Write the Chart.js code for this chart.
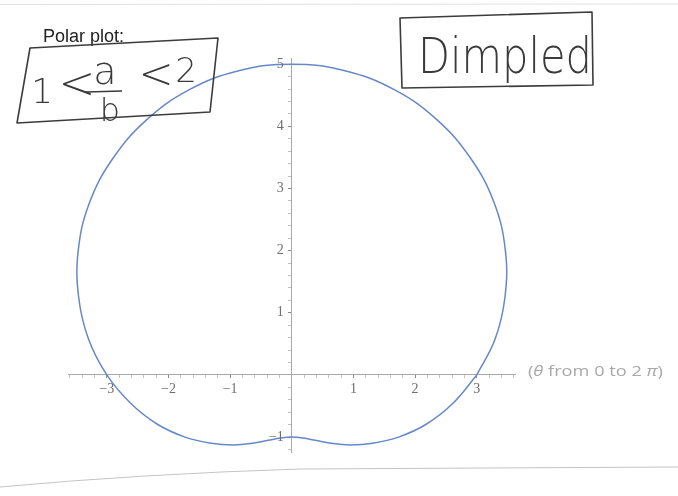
<!DOCTYPE html>
<html>
<head>
<meta charset="utf-8">
<script src="https://cdn.jsdelivr.net/npm/chart.js@4.4.1/dist/chart.umd.min.js"></script>
<style>
  html, body { margin: 0; padding: 0; background: #ffffff; }
  #wrap { position: relative; width: 678px; height: 496px; overflow: hidden; }
  #plot { position: absolute; left: 0; top: 0; }
  #notes { position: absolute; left: 0; top: 0; pointer-events: none; }
</style>
</head>
<body>
<div id="wrap">
  <canvas id="plot" width="678" height="496"></canvas>
  <svg id="notes" width="678" height="496" xmlns="http://www.w3.org/2000/svg">
    <!-- page edges -->
    <line x1="0" y1="4.5" x2="678" y2="4" stroke="#e2e2e2" stroke-width="1"/>
    <path d="M0,487 Q140,474 300,469 L678,467" fill="none" stroke="#c4c4c4" stroke-width="1"/>

    <text x="43" y="42" font-family="Liberation Sans, Arial, sans-serif" font-size="18" fill="#222">Polar plot:</text>

    <!-- handwritten note: 1 < a/b < 2 -->
    <path d="M30,48 L218,38 L210,112 L17,123 Z" fill="none" stroke="#3c3c3c" stroke-width="1.6" stroke-linejoin="round"/>
    <g font-family="DejaVu Sans, sans-serif" font-weight="200" fill="#3a3a3a" text-anchor="middle">
      <text x="42" y="103" font-size="34">1</text>
      <text x="77" y="98" font-size="44">&lt;</text>
      <text x="105" y="84" font-size="38">a</text>
      <text x="110" y="121" font-size="32">b</text>
      <text x="156" y="88" font-size="42">&lt;</text>
      <text x="186" y="82" font-size="34">2</text>
    </g>
    <line x1="86" y1="92" x2="122" y2="91" stroke="#3a3a3a" stroke-width="1.5"/>

    <!-- handwritten note: Dimpled -->
    <path d="M400,18 L592,12 L593,85 L402,88 Z" fill="none" stroke="#3c3c3c" stroke-width="1.6" stroke-linejoin="round"/>
    <text x="418" y="73" font-family="DejaVu Sans, sans-serif" font-weight="200" font-size="49" fill="#3a3a3a" textLength="174" lengthAdjust="spacingAndGlyphs">Dimpled</text>

    <!-- parameter range note -->
    <text x="528" y="376" font-family="Open Sans, sans-serif" font-size="14.5" fill="#a8a8a8" textLength="135" lengthAdjust="spacingAndGlyphs">(<tspan font-style="italic">θ</tspan> from 0 to 2 <tspan font-style="italic">π</tspan>)</text>
  </svg>
</div>
<script>
// Limaçon sampled every 10 degrees: angle (deg) and radius
const thetaDeg = [0, 10, 20, 30, 40, 50, 60, 70, 80, 90,
                  100, 110, 120, 130, 140, 150, 160, 170, 180,
                  190, 200, 210, 220, 230, 240, 250, 260, 270,
                  280, 290, 300, 310, 320, 330, 340, 350, 360];
const radius = [3.00, 3.35, 3.68, 4.00, 4.29, 4.53, 4.73, 4.88, 4.97, 5.00,
                4.97, 4.88, 4.73, 4.53, 4.29, 4.00, 3.68, 3.35, 3.00,
                2.65, 2.32, 2.00, 1.71, 1.47, 1.27, 1.12, 1.03, 1.00,
                1.03, 1.12, 1.27, 1.47, 1.71, 2.00, 2.32, 2.65, 3.00];

// Axis tick labels
const xTickValues = [-3, -2, -1, 1, 2, 3];
const xTickLabels = ['\u22123', '\u22122', '\u22121', '1', '2', '3'];
const yTickValues = [-1, 1, 2, 3, 4, 5];
const yTickLabels = ['\u22121', '1', '2', '3', '4', '5'];

// polar -> cartesian points for the scatter line
const curve = thetaDeg.map((t, i) => {
  const a = t * Math.PI / 180;
  return { x: radius[i] * Math.cos(a), y: radius[i] * Math.sin(a) };
});

function isWhole(v) { return Math.abs(v - Math.round(v)) < 1e-6; }
function labelFor(values, labels) {
  return (v) => {
    if (!isWhole(v)) return '';
    const idx = values.indexOf(Math.round(v));
    return idx >= 0 ? labels[idx] : '';
  };
}

const axisFont = { family: 'Liberation Serif, Times New Roman, serif', size: 14 };
const labelColor = '#6e6e6e';

// Labels of the centred y axis, set a little to the left of the axis line
const yAxisLabels = {
  id: 'yAxisLabels',
  afterDraw(chart) {
    const { ctx, scales: { x, y } } = chart;
    const axisX = x.getPixelForValue(0);
    ctx.save();
    ctx.font = `${axisFont.size}px ${axisFont.family}`;
    ctx.fillStyle = labelColor;
    ctx.textAlign = 'right';
    ctx.textBaseline = 'middle';
    yTickValues.forEach((v, i) => {
      ctx.fillText(yTickLabels[i], axisX - 8, y.getPixelForValue(v));
    });
    ctx.restore();
  }
};

new Chart(document.getElementById('plot'), {
  type: 'scatter',
  data: {
    datasets: [{
      data: curve,
      showLine: true,
      tension: 0.4,
      borderColor: '#6688c8',
      borderWidth: 1.5,
      pointRadius: 0,
      fill: false
    }]
  },
  options: {
    responsive: false,
    animation: false,
    layout: { padding: { left: 68, right: 163, top: 58, bottom: 44 } },
    plugins: { legend: { display: false }, tooltip: { enabled: false } },
    scales: {
      x: {
        type: 'linear',
        position: { y: 0 },
        min: -3.63, max: 3.62,
        afterFit: (s) => { s.height = 0; },
        border: { display: true, color: '#a9a9a9', width: 1 },
        grid: {
          drawOnChartArea: false, drawTicks: true, tickLength: 3,
          tickColor: (c) => (c.tick && isWhole(c.tick.value)) ? '#888' : '#c4c4c4'
        },
        ticks: {
          stepSize: 0.2, autoSkip: false, includeBounds: false, maxRotation: 0, padding: 3,
          color: labelColor, font: axisFont,
          callback: labelFor(xTickValues, xTickLabels)
        }
      },
      y: {
        type: 'linear',
        position: { x: 0 },
        min: -1.24, max: 5.1,
        afterFit: (s) => { s.width = 0; },
        border: { display: true, color: '#a9a9a9', width: 1 },
        grid: {
          drawOnChartArea: false, drawTicks: true, tickLength: 3,
          tickColor: (c) => (c.tick && isWhole(c.tick.value)) ? '#888' : '#c4c4c4'
        },
        ticks: {
          stepSize: 0.2, autoSkip: false, includeBounds: false, display: false
        }
      }
    }
  },
  plugins: [yAxisLabels]
});
</script>
</body>
</html>
